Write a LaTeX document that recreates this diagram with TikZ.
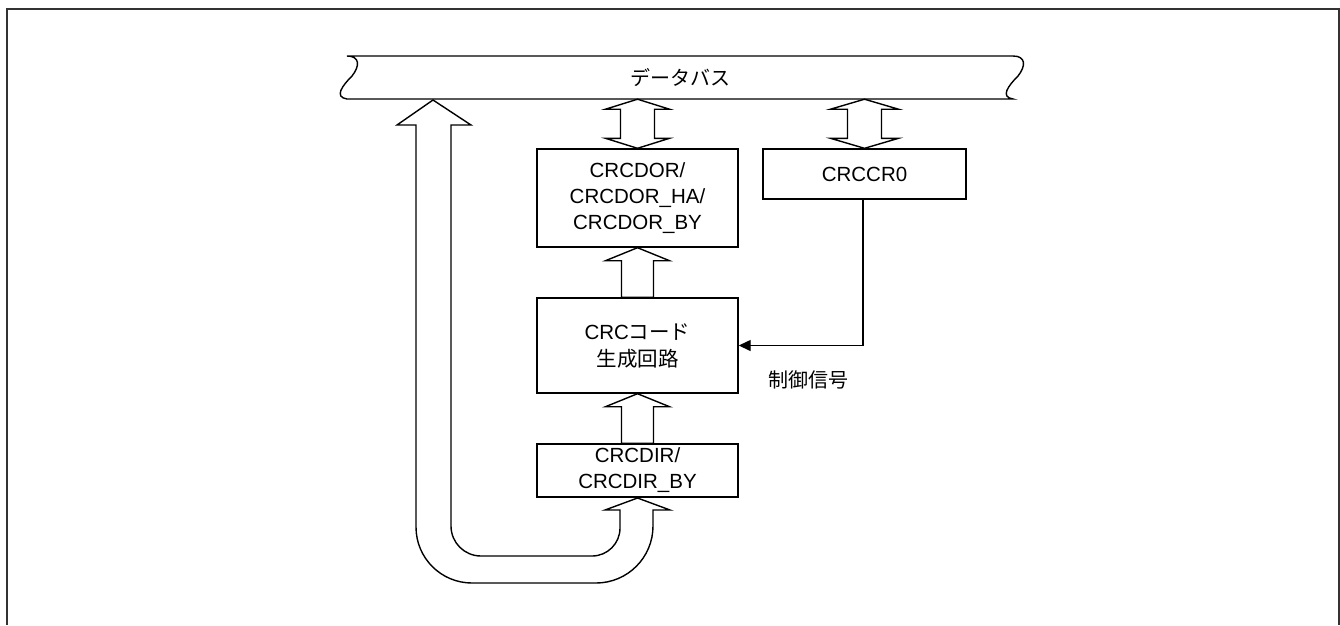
\documentclass[tikz,border=0pt]{standalone}
\usepackage{fontspec}
\setmainfont{Liberation Sans}
\newfontfamily\jp{Noto Sans CJK JP}
\usetikzlibrary{calc,arrows.meta}
\tikzset{
  blk/.style={draw=black,line width=1.4pt,fill=white,line join=miter},
  box/.style={draw=black,line width=1.4pt,fill=white,rectangle,inner sep=0pt,align=center,
    font=\fontsize{20.5}{26}\selectfont},
  lbl/.style={inner sep=0pt,font=\fontsize{20}{24}\selectfont\jp},
  frame/.style={draw=black!80,line width=2pt}
}
\newcommand\fatup[2]{% #1 bottom anchor, #2 tip anchor
  \draw[blk] let \p1=(#1), \p2=(#2) in
    (\x2,\y2) -- (\x2+32pt,\y2-13pt) -- (\x2+16pt,\y2-13pt) -- (\x2+16pt,\y1)
    -- (\x2-16pt,\y1) -- (\x2-16pt,\y2-13pt) -- (\x2-32pt,\y2-13pt) -- cycle;}
\newcommand\fatboth[3]{% #1 top anchor, #2 bottom anchor, #3 half head width
  \draw[blk] let \p1=(#1), \p2=(#2) in
    (\x1,\y1) -- (\x1+#3,\y1-10pt) -- (\x1+17pt,\y1-10pt) -- (\x1+17pt,\y2+10pt)
    -- (\x1+#3,\y2+10pt) -- (\x2,\y2) -- (\x1-#3,\y2+10pt) -- (\x1-17pt,\y2+10pt)
    -- (\x1-17pt,\y1-10pt) -- (\x1-#3,\y1-10pt) -- cycle;}
\begin{document}
\begin{tikzpicture}[x=1pt,y=-1pt]
\useasboundingbox (0,0) rectangle (1340,625);
% frame
\draw[frame] (7,625) -- (7,9) -- (1339,9) -- (1339,625);

% data bus
\node[inner sep=0pt,minimum width=666pt,minimum height=43pt] (bus) at (680,77.5) {};
\draw[blk] (347,56) -- (1013,56)
  .. controls (1026,56) and (1026,66) .. (1018,76)
  .. controls (1008,86) and (1000,97) .. (1013,99)
  -- (347,99)
  .. controls (334,97) and (342,86) .. (352,76)
  .. controls (360,66) and (360,56) .. (347,56) -- cycle;
\node[lbl] (bustext) at (bus.center) {データバス};

% boxes
\node[box,minimum width=201pt,minimum height=98pt] (dor) at (637.5,198)
  {CRCDOR/\\CRCDOR\_HA/\\CRCDOR\_BY};
\node[box,minimum width=203pt,minimum height=50pt] (ccr) at (864.5,174) {CRCCR0};
\node[box,minimum width=201pt,minimum height=95pt,font=\fontsize{20.5}{27}\selectfont] (crc) at (637.5,345.5)
  {CRC{\jp コード}\\{\jp 生成回路}};
\node[box,minimum width=201pt,minimum height=53pt] (dir) at (637.5,470.5)
  {CRCDIR/\\CRCDIR\_BY};

% double arrows to bus
\fatboth{dor.north |- bus.south}{dor.north}{32pt}
\fatboth{ccr.north |- bus.south}{ccr.north}{34pt}

% up arrows
\fatup{crc.north}{dor.south}
\fatup{dir.north}{crc.south}

% feedback arrow from CRCDIR input to bus
\draw[blk] (433,100) -- (471,125) -- (451,125) -- (451,526)
  .. controls (451,542.6) and (464.4,556) .. (481,556) -- (592,556)
  .. controls (607.5,556) and (620,543.5) .. (620,528) -- (620,510) -- (605,510)
  -- (637.5,498) -- (670,510) -- (653,510) -- (653,526)
  .. controls (653,557.5) and (627.5,583) .. (596,583) -- (472,583)
  .. controls (441,583) and (416,558) .. (416,527) -- (416,125) -- (397,125) -- cycle;

% control signal
\coordinate (ctl) at (863,345.5);
\draw[line width=1.4pt,-{Triangle[length=12pt,width=11pt]}] (ccr.south -| ctl) -- (ctl) -- (crc.east);
\node[lbl] (ctltext) at (808,380) {制御信号};
\end{tikzpicture}
\end{document}
